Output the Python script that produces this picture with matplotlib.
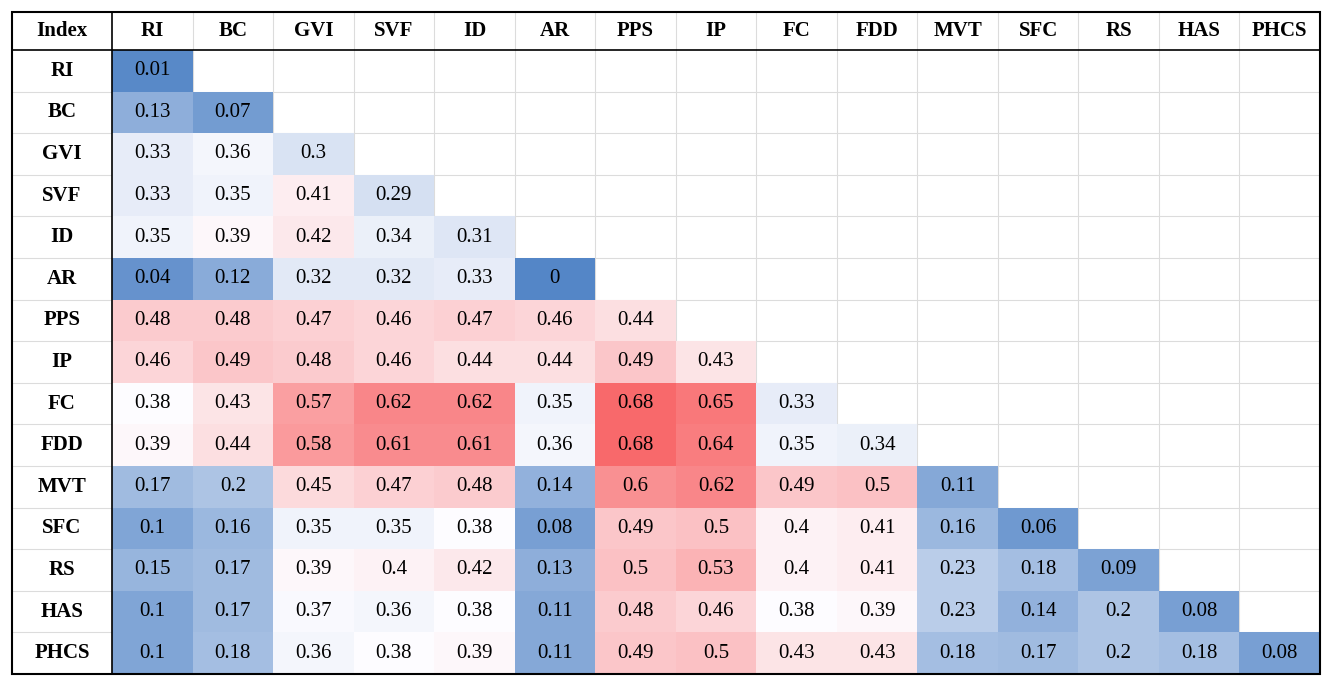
import matplotlib
matplotlib.use("Agg")
import matplotlib.pyplot as plt
from matplotlib.patches import Rectangle
import numpy as np

labels = ["RI", "BC", "GVI", "SVF", "ID", "AR", "PPS", "IP", "FC", "FDD",
          "MVT", "SFC", "RS", "HAS", "PHCS"]
rows = [
    [0.01],
    [0.13, 0.07],
    [0.33, 0.36, 0.3],
    [0.33, 0.35, 0.41, 0.29],
    [0.35, 0.39, 0.42, 0.34, 0.31],
    [0.04, 0.12, 0.32, 0.32, 0.33, 0],
    [0.48, 0.48, 0.47, 0.46, 0.47, 0.46, 0.44],
    [0.46, 0.49, 0.48, 0.46, 0.44, 0.44, 0.49, 0.43],
    [0.38, 0.43, 0.57, 0.62, 0.62, 0.35, 0.68, 0.65, 0.33],
    [0.39, 0.44, 0.58, 0.61, 0.61, 0.36, 0.68, 0.64, 0.35, 0.34],
    [0.17, 0.2, 0.45, 0.47, 0.48, 0.14, 0.6, 0.62, 0.49, 0.5, 0.11],
    [0.1, 0.16, 0.35, 0.35, 0.38, 0.08, 0.49, 0.5, 0.4, 0.41, 0.16, 0.06],
    [0.15, 0.17, 0.39, 0.4, 0.42, 0.13, 0.5, 0.53, 0.4, 0.41, 0.23, 0.18, 0.09],
    [0.1, 0.17, 0.37, 0.36, 0.38, 0.11, 0.48, 0.46, 0.38, 0.39, 0.23, 0.14, 0.2, 0.08],
    [0.1, 0.18, 0.36, 0.38, 0.39, 0.11, 0.49, 0.5, 0.43, 0.43, 0.18, 0.17, 0.2, 0.18, 0.08],
]

blue = np.array([84, 134, 199]) / 255
white = np.array([253, 252, 255]) / 255
red = np.array([248, 105, 107]) / 255
vmin, vmid, vmax = 0.0, 0.38, 0.68

def cell_color(v):
    if v <= vmid:
        t = (v - vmin) / (vmid - vmin)
        return blue + (white - blue) * t
    t = min((v - vmid) / (vmax - vmid), 1)
    return white + (red - white) * t

# table geometry in pixels
left, top, right, bottom = 12, 12, 1320, 674
first_w = 100
head_h = 38
n = len(labels)
cw = (right - left - first_w) / n
rh = (bottom - top - head_h) / n

fig = plt.figure(figsize=(13.3, 6.84), dpi=100)
ax = fig.add_axes([0, 0, 1, 1])
ax.set_xlim(0, 1330)
ax.set_ylim(684, 0)
ax.axis("off")

font = "Liberation Serif"
grid = "#dcdcdc"

for i, row in enumerate(rows):
    y0 = top + head_h + i * rh
    for j, v in enumerate(row):
        x0 = left + first_w + j * cw
        ax.add_patch(Rectangle((x0, y0), cw, rh, facecolor=cell_color(v), edgecolor="none"))
        ax.text(x0 + cw / 2, y0 + rh / 2, f"{v:g}", ha="center", va="center",
                fontsize=15, family=font)
    ax.text(left + first_w / 2, y0 + rh / 2, labels[i], ha="center", va="center",
            fontsize=15, family=font, weight="bold")

for j, lab in enumerate(labels):
    x0 = left + first_w + j * cw
    ax.text(x0 + cw / 2, top + head_h / 2, lab, ha="center", va="center",
            fontsize=15, family=font, weight="bold")
ax.text(left + first_w / 2, top + head_h / 2, "Index", ha="center", va="center",
        fontsize=15, family=font, weight="bold")

# grid lines
for j in range(1, n):
    x = left + first_w + j * cw
    ax.plot([x, x], [top, bottom], color=grid, lw=0.8, zorder=0.5)
for i in range(1, n):
    y = top + head_h + i * rh
    ax.plot([left, right], [y, y], color=grid, lw=0.8, zorder=0.5)

# black borders
ax.plot([left + first_w] * 2, [top, bottom], color="black", lw=1.2)
ax.plot([left, right], [top + head_h] * 2, color="black", lw=1.2)
ax.add_patch(Rectangle((left, top), right - left, bottom - top, fill=False,
                       edgecolor="black", lw=1.5))

fig.savefig("out.png", dpi=100, facecolor="white")
